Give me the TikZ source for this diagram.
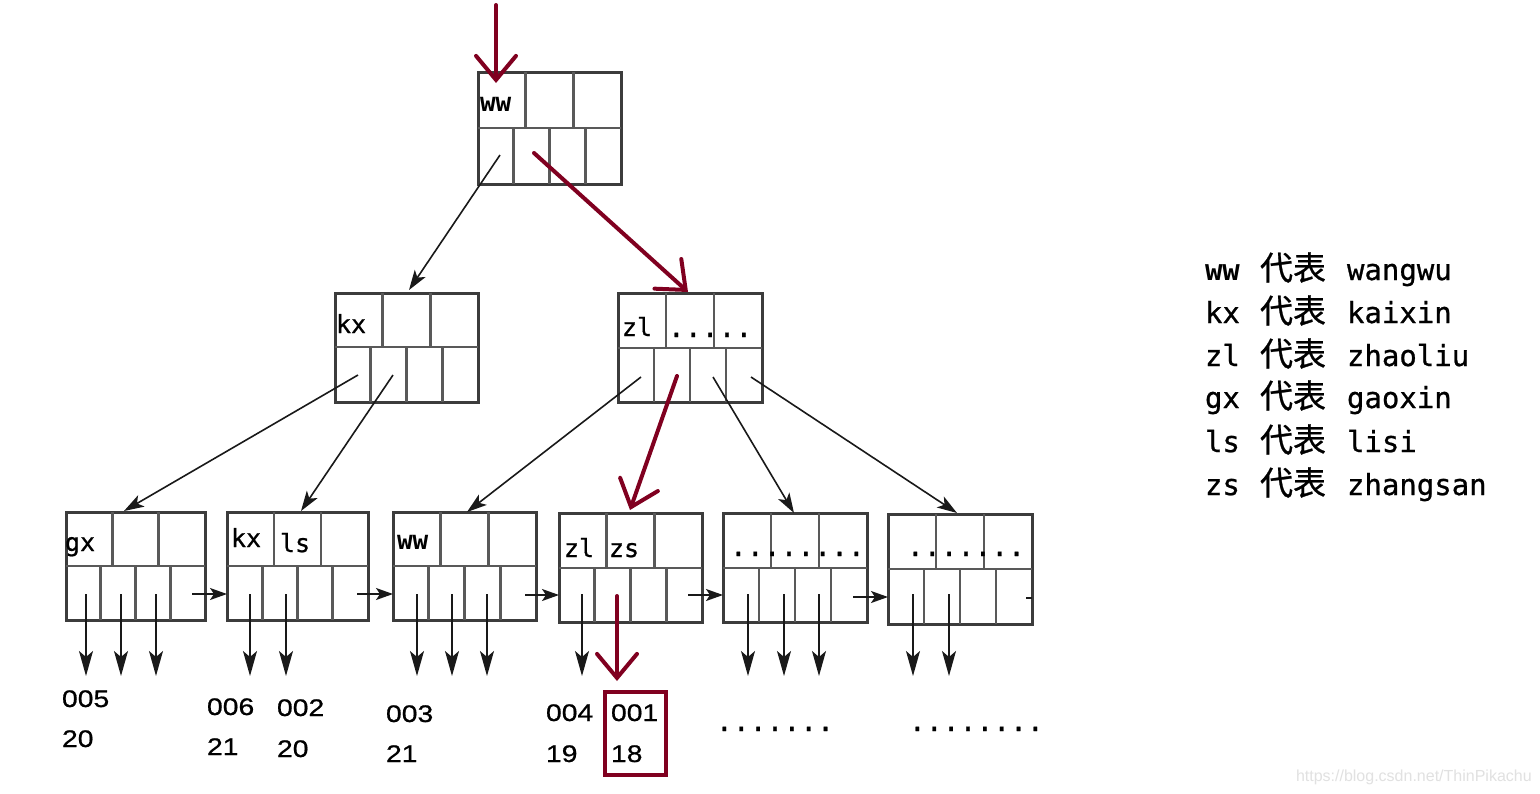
\documentclass[tikz,border=0pt]{standalone}
\usepackage{fontspec}
\usetikzlibrary{arrows.meta}
\newfontfamily\monof[FakeBold=0.8]{DejaVu Sans Mono}
\newfontfamily\monobf{DejaVu Sans Mono Bold}
\newfontfamily\cjkf[FakeBold=0.8]{Noto Sans CJK SC}
\newfontfamily\numf[FakeStretch=1.18,FakeBold=0.8]{Liberation Sans}
\newfontfamily\wmf{Liberation Sans}
\definecolor{hlred}{RGB}{128,0,32}
\definecolor{boxgray}{RGB}{60,60,60}
\definecolor{conn}{RGB}{25,25,25}
\definecolor{wmgray}{RGB}{225,225,225}
\newcommand{\bblock}[6]{%
  \node[blk, minimum width={(#3-#2)*1pt}, minimum height={(#6-#4)*1pt}] (#1) at ({(#2+#3)/2},{(#4+#6)/2}) {};
  \draw[cellline] (#2,#5) -- (#3,#5);
  \draw[cellline] ({#2+(#3-#2)/3},#4) -- ({#2+(#3-#2)/3},#5);
  \draw[cellline] ({#2+2*(#3-#2)/3},#4) -- ({#2+2*(#3-#2)/3},#5);
  \foreach \kk in {1,2,3} {\draw[cellline] ({#2+\kk*(#3-#2)/4},#5) -- ({#2+\kk*(#3-#2)/4},#6);}
}
\begin{document}
\begin{tikzpicture}[x=1pt,y=-1pt,
  blk/.style={draw=boxgray, line width=3pt, inner sep=0pt, outer sep=0pt, fill=white},
  cellline/.style={draw=boxgray!85, line width=2.6pt},
  lab/.style={anchor=base west, inner sep=0pt, outer sep=0pt},
  keyf/.style={font=\monof\fontsize{25}{25}\selectfont},
  boldf/.style={font=\monobf\fontsize{26}{26}\selectfont},
  dotf/.style={font=\monof\fontsize{28}{28}\selectfont},
  numtxt/.style={lab, font=\numf\fontsize{24}{24}\selectfont},
  legl/.style={lab, font=\monof\fontsize{29}{29}\selectfont},
  legc/.style={lab, font=\cjkf\fontsize{33}{33}\selectfont},
  blkarrow/.style={draw=conn, line width=1.6pt, -{Stealth[length=20pt,width=13pt,inset=5pt]}},
  downarrow/.style={draw=conn, line width=1.4pt, -{Stealth[length=25pt,width=14pt,inset=6pt]}},
  sibarrow/.style={draw=conn, line width=1.6pt, -{Stealth[length=17pt,width=12pt,inset=4pt]}},
  redarrow/.style={draw=hlred, line width=4pt, line cap=round, -{Straight Barb[length=24pt,width=40pt,line cap=round]}}
]
\useasboundingbox[fill=white] (0,0) rectangle (1540,793);

% blocks
\bblock{root}{478}{621}{72}{128}{184}
\bblock{kxb}{335}{478}{293}{347}{402}
\bblock{zlb}{618}{762}{293}{348}{402}
\bblock{lf1}{66}{205}{512}{566}{620}
\bblock{lf2}{227}{368}{512}{566}{620}
\bblock{lf3}{393}{536}{512}{566}{620}
\bblock{lf4}{559}{702}{513}{568}{622}
\bblock{lf5}{723}{867}{513}{568}{622}
\bblock{lf6}{888}{1032}{514}{569}{624}

% labels in blocks
\node[lab, boldf] (t-root) at (480,111) {ww};
\node[lab, keyf] (t-kx) at (336,333) {kx};
\node[lab, keyf] (t-zl) at (622,336) {zl};
\node[lab, dotf] (t-zld) at (668,337) {.....};
\node[lab, keyf] (t-gx) at (65,551) {gx};
\node[lab, keyf] (t-kx2) at (231,547) {kx};
\node[lab, keyf] (t-ls) at (280,552) {ls};
\node[lab, boldf] (t-ww2) at (397,549) {ww};
\node[lab, keyf] (t-zl2) at (564,557) {zl};
\node[lab, keyf] (t-zs) at (609,557) {zs};
\node[lab, dotf] (t-d5) at (730,556) {........};
\node[lab, dotf] (t-d6) at (907,556) {.......};

% coordinates for connectors
\coordinate (top) at (496,5);
\coordinate (rootin) at (496,83);
\coordinate (r1) at (500,155);
\coordinate (r2) at (534,153);
\coordinate (kxin) at (409,290);
\coordinate (zlin) at (688,292);
\coordinate (k1) at (358,375);
\coordinate (k2) at (393,375);
\coordinate (z1) at (641,377);
\coordinate (z2) at (677,376);
\coordinate (z3) at (713,377);
\coordinate (z4) at (751,377);
\coordinate (in1) at (124,511);
\coordinate (in2) at (301,511);
\coordinate (in3) at (467,512);
\coordinate (in4) at (630,510);
\coordinate (in5) at (794,513);
\coordinate (in6) at (957,513);

% red path
\draw[redarrow] (top) -- (rootin);
\draw[redarrow] (r2) -- (zlin);
\draw[redarrow] (z2) -- (in4);

% black connectors
\draw[blkarrow] (r1) -- (kxin);
\draw[blkarrow] (k1) -- (in1);
\draw[blkarrow] (k2) -- (in2);
\draw[blkarrow] (z1) -- (in3);
\draw[blkarrow] (z3) -- (in5);
\draw[blkarrow] (z4) -- (in6);

% sibling pointers
\coordinate (s1) at (192,594); \coordinate (e1) at (227,594);
\coordinate (s2) at (357,594); \coordinate (e2) at (393,594);
\coordinate (s3) at (525,595); \coordinate (e3) at (559,595);
\coordinate (s4) at (688,595); \coordinate (e4) at (723,595);
\coordinate (s5) at (853,597); \coordinate (e5) at (888,597);
\coordinate (s6) at (1026,598); \coordinate (e6) at (1032,598);
\draw[sibarrow] (s1) -- (e1);
\draw[sibarrow] (s2) -- (e2);
\draw[sibarrow] (s3) -- (e3);
\draw[sibarrow] (s4) -- (e4);
\draw[sibarrow] (s5) -- (e5);
\draw[draw=conn, line width=2pt] (s6) -- (e6);

% down pointers to records
\foreach \xx [count=\i] in {86,121,156,250,286,417,452,487,582,748,784,819,913,949} {
  \coordinate (ds\i) at (\xx,594);
  \coordinate (de\i) at (\xx,676);
  \draw[downarrow] (ds\i) -- (de\i);
}
\coordinate (rds) at (617,596);
\coordinate (rde) at (617,681);
\draw[redarrow] (rds) -- (rde);

% record values
\node[numtxt] (n005) at (62,707) {005};
\node[numtxt] (n20a) at (62,747) {20};
\node[numtxt] (n006) at (207,715) {006};
\node[numtxt] (n21a) at (207,755) {21};
\node[numtxt] (n002) at (277,716) {002};
\node[numtxt] (n20b) at (277,757) {20};
\node[numtxt] (n003) at (386,722) {003};
\node[numtxt] (n21b) at (386,762) {21};
\node[numtxt] (n004) at (546,721) {004};
\node[numtxt] (n19) at (546,762) {19};
\node[numtxt] (n001) at (611,721) {001};
\node[numtxt] (n18) at (611,762) {18};
\node[draw=hlred, line width=4pt, inner sep=0pt, minimum width=61pt, minimum height=83pt] (hit) at (635.5,733.5) {};
\node[lab, dotf] (bd1) at (716,731) {.......};
\node[lab, dotf] (bd2) at (909,731) {........};

% legend
\node[lab, font=\monobf\fontsize{29}{29}\selectfont] (la1) at (1205,280) {ww};
\node[legc] (lb1) at (1260,280) {代表};
\node[legl] (lc1) at (1347,280) {wangwu};
\node[legl] (la2) at (1205,323) {kx};
\node[legc] (lb2) at (1260,323) {代表};
\node[legl] (lc2) at (1347,323) {kaixin};
\node[legl] (la3) at (1205,366) {zl};
\node[legc] (lb3) at (1260,366) {代表};
\node[legl] (lc3) at (1347,366) {zhaoliu};
\node[legl] (la4) at (1205,408) {gx};
\node[legc] (lb4) at (1260,408) {代表};
\node[legl] (lc4) at (1347,408) {gaoxin};
\node[legl] (la5) at (1205,452) {ls};
\node[legc] (lb5) at (1260,452) {代表};
\node[legl] (lc5) at (1347,452) {lisi};
\node[legl] (la6) at (1205,495) {zs};
\node[legc] (lb6) at (1260,495) {代表};
\node[legl] (lc6) at (1347,495) {zhangsan};

% watermark
\node[lab, font=\wmf\fontsize{16}{16}\selectfont, text=wmgray] (wm) at (1296,781) {https://blog.csdn.net/ThinPikachu};
\end{tikzpicture}
\end{document}
